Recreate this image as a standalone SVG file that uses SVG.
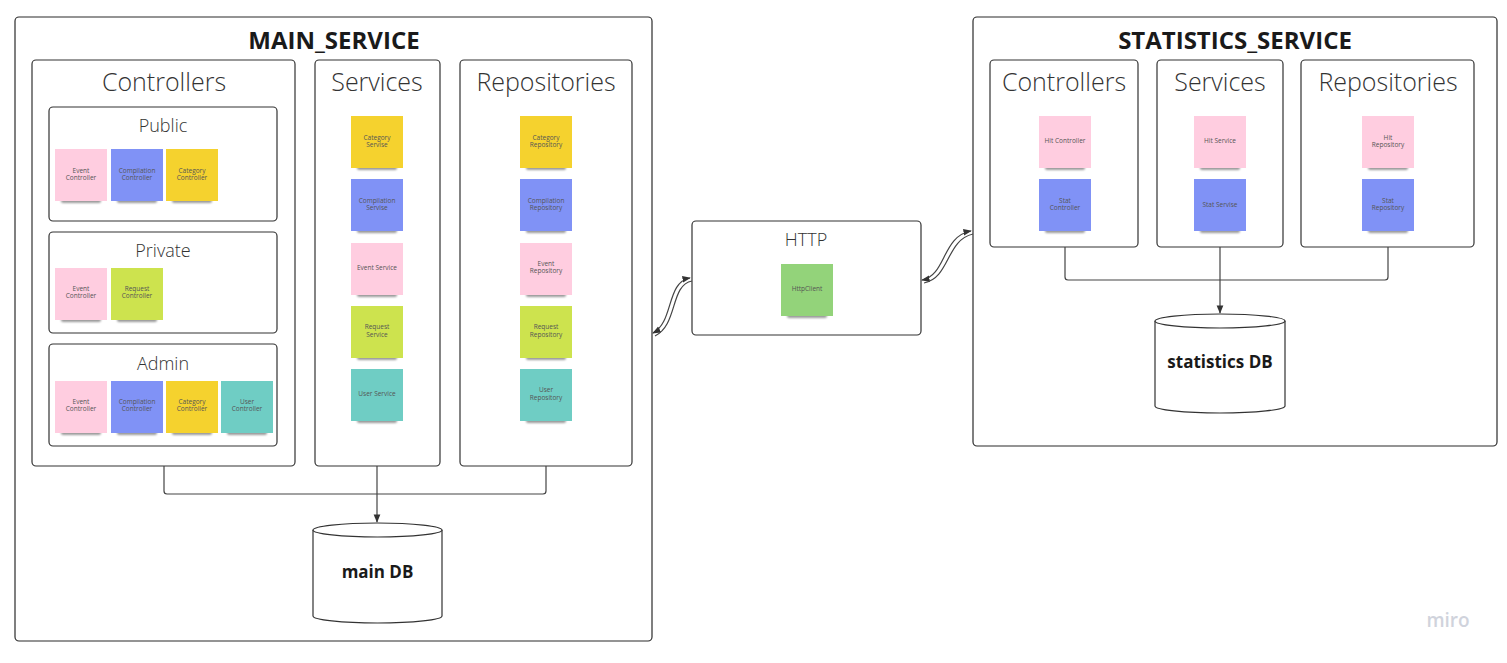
<svg xmlns="http://www.w3.org/2000/svg" width="1507" height="663" viewBox="0 0 1507 663">
<defs>
<style>
.box{fill:#fff;stroke:#2b2b2b;stroke-width:1.2}
.sub{fill:#fff;stroke:#333;stroke-width:1.2}
.h1{font-family:"Open Sans","Noto Sans",sans-serif;font-weight:700;font-size:24px;fill:#1a1a1a;text-anchor:middle}
.h2{font-family:"Open Sans","Noto Sans",sans-serif;font-weight:300;font-size:25px;fill:#333;text-anchor:middle}
.h3{font-family:"Open Sans","Noto Sans",sans-serif;font-weight:300;font-size:18px;fill:#333;text-anchor:middle}
.st{font-family:"Open Sans","Noto Sans",sans-serif;font-size:6.5px;fill:#555;text-anchor:middle}
.db{fill:#fff;stroke:#333;stroke-width:1.2}
.dbt{font-family:"Open Sans","Noto Sans",sans-serif;font-weight:700;font-size:17px;fill:#1a1a1a;text-anchor:middle}
.ln{fill:none;stroke:#444;stroke-width:1.2}
.pk{fill:#ffcde0}.bl{fill:#8092f6}.yl{fill:#f5d22e}.lm{fill:#cde34e}.tl{fill:#6fcdc4}.gr{fill:#93d37a}
.sh{fill:#000;opacity:0.4;filter:url(#blur)}
</style>
<filter id="blur" x="-20%" y="-100%" width="140%" height="300%"><feGaussianBlur stdDeviation="1.3"/></filter>
<marker id="arr" viewBox="0 0 10 10" refX="9" refY="5" markerWidth="7" markerHeight="7" orient="auto-start-reverse"><path d="M0,1 L10,5 L0,9 z" fill="#333"/></marker>
<g id="sticky"><rect x="6" y="49" width="40" height="5" rx="2" class="sh"/></g>
</defs>

<!-- MAIN_SERVICE -->
<g id="main_service">
<rect class="box" x="15" y="17" width="637" height="624" rx="4"/>
<text class="h1" x="334" y="49">MAIN_SERVICE</text>
</g>
<g id="main_controllers">
<rect class="sub" x="32" y="60" width="263" height="406" rx="4"/>
<text class="h2" x="164" y="91">Controllers</text>
</g>
<g id="public">
<rect class="sub" x="49" y="107" width="228" height="114" rx="4"/>
<text class="h3" x="163" y="132">Public</text>
<use href="#sticky" x="55" y="149"/><rect class="pk" x="55" y="149" width="52" height="52"/>
<text class="st" x="81" y="173">Event</text><text class="st" x="81" y="180">Controller</text>
<use href="#sticky" x="111" y="149"/><rect class="bl" x="111" y="149" width="52" height="52"/>
<text class="st" x="137" y="173">Compilation</text><text class="st" x="137" y="180">Controller</text>
<use href="#sticky" x="166" y="149"/><rect class="yl" x="166" y="149" width="52" height="52"/>
<text class="st" x="192" y="173">Category</text><text class="st" x="192" y="180">Controller</text>
</g>
<g id="private">
<rect class="sub" x="49" y="232" width="228" height="101" rx="4"/>
<text class="h3" x="163" y="257">Private</text>
<use href="#sticky" x="55" y="268"/><rect class="pk" x="55" y="268" width="52" height="52"/>
<text class="st" x="81" y="291">Event</text><text class="st" x="81" y="298">Controller</text>
<use href="#sticky" x="111" y="268"/><rect class="lm" x="111" y="268" width="52" height="52"/>
<text class="st" x="137" y="291">Request</text><text class="st" x="137" y="298">Controller</text>
</g>
<g id="admin">
<rect class="sub" x="49" y="344" width="228" height="102" rx="4"/>
<text class="h3" x="163" y="370">Admin</text>
<use href="#sticky" x="55" y="381"/><rect class="pk" x="55" y="381" width="52" height="52"/>
<text class="st" x="81" y="404">Event</text><text class="st" x="81" y="411">Controller</text>
<use href="#sticky" x="111" y="381"/><rect class="bl" x="111" y="381" width="52" height="52"/>
<text class="st" x="137" y="404">Compilation</text><text class="st" x="137" y="411">Controller</text>
<use href="#sticky" x="166" y="381"/><rect class="yl" x="166" y="381" width="52" height="52"/>
<text class="st" x="192" y="404">Category</text><text class="st" x="192" y="411">Controller</text>
<use href="#sticky" x="221" y="381"/><rect class="tl" x="221" y="381" width="52" height="52"/>
<text class="st" x="247" y="404">User</text><text class="st" x="247" y="411">Controller</text>
</g>
<g id="main_services">
<rect class="sub" x="315" y="60" width="125" height="406" rx="4"/>
<text class="h2" x="377" y="91">Services</text>
<use href="#sticky" x="351" y="116"/><rect class="yl" x="351" y="116" width="52" height="52"/>
<text class="st" x="377" y="140">Category</text><text class="st" x="377" y="147">Servise</text>
<use href="#sticky" x="351" y="179"/><rect class="bl" x="351" y="179" width="52" height="52"/>
<text class="st" x="377" y="203">Compilation</text><text class="st" x="377" y="210">Servise</text>
<use href="#sticky" x="351" y="243"/><rect class="pk" x="351" y="243" width="52" height="52"/>
<text class="st" x="377" y="270">Event Service</text>
<use href="#sticky" x="351" y="306"/><rect class="lm" x="351" y="306" width="52" height="52"/>
<text class="st" x="377" y="329">Request</text><text class="st" x="377" y="337">Service</text>
<use href="#sticky" x="351" y="369"/><rect class="tl" x="351" y="369" width="52" height="52"/>
<text class="st" x="377" y="396">User Service</text>
</g>
<g id="main_repositories">
<rect class="sub" x="460" y="60" width="172" height="406" rx="4"/>
<text class="h2" x="546" y="91">Repositories</text>
<use href="#sticky" x="520" y="116"/><rect class="yl" x="520" y="116" width="52" height="52"/>
<text class="st" x="546" y="140">Category</text><text class="st" x="546" y="147">Repository</text>
<use href="#sticky" x="520" y="179"/><rect class="bl" x="520" y="179" width="52" height="52"/>
<text class="st" x="546" y="203">Compilation</text><text class="st" x="546" y="210">Repository</text>
<use href="#sticky" x="520" y="243"/><rect class="pk" x="520" y="243" width="52" height="52"/>
<text class="st" x="546" y="266">Event</text><text class="st" x="546" y="273">Repository</text>
<use href="#sticky" x="520" y="306"/><rect class="lm" x="520" y="306" width="52" height="52"/>
<text class="st" x="546" y="329">Request</text><text class="st" x="546" y="337">Repository</text>
<use href="#sticky" x="520" y="369"/><rect class="tl" x="520" y="369" width="52" height="52"/>
<text class="st" x="546" y="392">User</text><text class="st" x="546" y="400">Repository</text>
</g>
<g id="main_db">
<path class="db" d="M313,530 L313,616 A64.5,7 0 0 0 442,616 L442,530"/>
<ellipse class="db" cx="377.5" cy="530" rx="64.5" ry="7"/>
<text class="dbt" x="377.5" y="578">main DB</text>
</g>

<!-- HTTP -->
<g id="http">
<rect class="sub" x="692" y="221" width="229" height="114" rx="4"/>
<text class="h3" x="806" y="246">HTTP</text>
<use href="#sticky" x="781" y="264"/><rect class="gr" x="781" y="264" width="52" height="52"/>
<text class="st" x="807" y="291">HttpClient</text>
</g>

<!-- STATISTICS_SERVICE -->
<g id="statistics_service">
<rect class="box" x="973" y="17" width="524" height="429" rx="4"/>
<text class="h1" x="1235" y="49">STATISTICS_SERVICE</text>
</g>
<g id="stat_controllers">
<rect class="sub" x="990" y="60" width="148" height="187" rx="4"/>
<text class="h2" x="1064" y="91">Controllers</text>
<use href="#sticky" x="1039" y="116"/><rect class="pk" x="1039" y="116" width="52" height="52"/>
<text class="st" x="1065" y="143">Hit Controller</text>
<use href="#sticky" x="1039" y="179"/><rect class="bl" x="1039" y="179" width="52" height="52"/>
<text class="st" x="1065" y="203">Stat</text><text class="st" x="1065" y="210">Controller</text>
</g>
<g id="stat_services">
<rect class="sub" x="1157" y="60" width="126" height="187" rx="4"/>
<text class="h2" x="1220" y="91">Services</text>
<use href="#sticky" x="1194" y="116"/><rect class="pk" x="1194" y="116" width="52" height="52"/>
<text class="st" x="1220" y="143">Hit Service</text>
<use href="#sticky" x="1194" y="179"/><rect class="bl" x="1194" y="179" width="52" height="52"/>
<text class="st" x="1220" y="207">Stat Servise</text>
</g>
<g id="stat_repositories">
<rect class="sub" x="1301" y="60" width="173" height="187" rx="4"/>
<text class="h2" x="1388" y="91">Repositories</text>
<use href="#sticky" x="1362" y="116"/><rect class="pk" x="1362" y="116" width="52" height="52"/>
<text class="st" x="1388" y="140">Hit</text><text class="st" x="1388" y="147">Repository</text>
<use href="#sticky" x="1362" y="179"/><rect class="bl" x="1362" y="179" width="52" height="52"/>
<text class="st" x="1388" y="203">Stat</text><text class="st" x="1388" y="210">Repository</text>
</g>
<g id="statistics_db">
<path class="db" d="M1155,321 L1155,406 A65,7 0 0 0 1285,406 L1285,321"/>
<ellipse class="db" cx="1220" cy="321" rx="65" ry="7"/>
<text class="dbt" x="1220" y="368">statistics DB</text>
</g>

<!-- connectors -->
<g id="connectors">
<path class="ln" d="M164,466 L164,491 Q164,494 167,494 L543,494 Q546,494 546,491 L546,466"/>
<path class="ln" d="M377,466 L377,522" marker-end="url(#arr)"/>
<path class="ln" d="M1065,247 L1065,277 Q1065,280 1068,280 L1385,280 Q1388,280 1388,277 L1388,247"/>
<path class="ln" d="M1220,247 L1220,313" marker-end="url(#arr)"/>
<path class="ln" d="M653,333 C674,322 666,282 690,278" marker-start="url(#arr)" marker-end="url(#arr)"/>
<path class="ln" d="M655,336 C678,325 670,285 692,281" stroke-width="0.9"/>
<path class="ln" d="M922,280 C946,276 942,236 971,231" marker-start="url(#arr)" marker-end="url(#arr)"/>
<path class="ln" d="M924,283 C950,278 946,240 973,234" stroke-width="0.9"/>
</g>

<text x="1448" y="627" font-family="'Open Sans',Lato,sans-serif" font-size="19" font-weight="600" fill="#d0d3dc" text-anchor="middle">miro</text>
</svg>
